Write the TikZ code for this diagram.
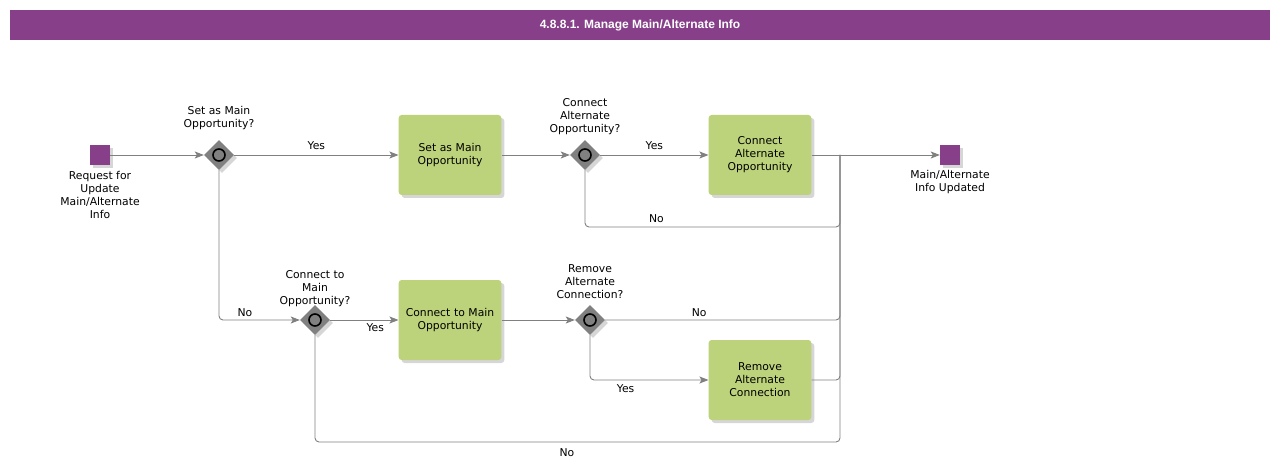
\documentclass[tikz,border=0pt]{standalone}
\usepackage{fontspec}
\setmainfont{DejaVu Sans}
\newfontfamily\headfont{Liberation Sans}
\usetikzlibrary{shapes.geometric,arrows.meta,shadows}
\definecolor{bpmpurple}{HTML}{873F8A}
\definecolor{bpmgreen}{HTML}{BDD37B}
\definecolor{bpmline}{HTML}{808080}

\begin{document}
\begin{tikzpicture}[x=1pt,y=-1pt,
    every node/.style={font=\fontsize{10.8}{13}\selectfont},
    softshadow/.style={drop shadow={shadow xshift=3pt,shadow yshift=-3pt,fill=black,opacity=0.16}},
    event/.style={fill=bpmpurple,minimum size=20pt,inner sep=0pt,softshadow},
    task/.style={fill=bpmgreen,rounded corners=3pt,minimum width=100pt,minimum height=80pt,
        text width=96pt,align=center,softshadow},
    gateway/.style={diamond,fill=bpmline,minimum size=30pt,inner sep=0pt,softshadow},
    gatering/.style={draw=black,line width=1.6pt,fill=bpmline},
    caption/.style={align=center,inner sep=1pt},
    flow/.style={draw=bpmline,line width=0.9pt,rounded corners=4pt,
        -{Stealth[length=9pt,width=7pt,inset=2pt]}},
    mergeline/.style={draw=bpmline,line width=0.9pt,rounded corners=4pt}]
    \useasboundingbox (0,0) rectangle (1280,473);

    % title bar
    \fill[bpmpurple] (10,10) rectangle (1270,40);
    \node[text=white,font=\headfont\bfseries\fontsize{12}{14}\selectfont] (title) at (640,25)
        {4.8.8.1. Manage Main/Alternate Info};

    % events
    \node[event] (start) at (100,155) {};
    \node[caption] (start-text) at (100,195) {Request for\\Update\\Main/Alternate\\Info};
    \node[event] (done) at (950,155) {};
    \node[caption] (done-text) at (950,182) {Main/Alternate\\Info Updated};

    % gateways
    \foreach \gw/\gx/\gy/\ly/\ask in {gwmain/219/155/118/{Set as Main\\Opportunity?},
        gwalt/585/155/117/{Connect\\Alternate\\Opportunity?},
        gwconn/315/320/289/{Connect to\\Main\\Opportunity?},
        gwremove/590/320/282/{Remove\\Alternate\\Connection?}}
    {
        \node[gateway] (\gw) at (\gx,\gy) {};
        \node[caption] (\gw-text) at (\gx,\ly) {\ask};
    }
    \foreach \gw in {gwmain,gwalt,gwconn,gwremove}
        \draw[gatering] (\gw.center) circle (6pt);

    % tasks
    \foreach \tk/\tx/\ty/\what in {setmain/450/155/{Set as Main\\Opportunity},
        connalt/760/155/{Connect\\Alternate\\Opportunity},
        connmain/450/320/{Connect to Main\\Opportunity},
        removealt/760/380/{Remove\\Alternate\\Connection}}
    {
        \node[task] (\tk) at (\tx,\ty) {\what};
    }

    % merge points
    \coordinate (mergetop) at (840,155);
    \coordinate (mergealt) at (840,227);
    \coordinate (mergeno) at (840,320);
    \coordinate (mergeyes) at (840,380);
    \coordinate (mergelow) at (840,442);

    % flows
    \draw[flow] (start) -- (gwmain);
    \draw[flow] (gwmain) -- node[above=2pt] {Yes} (setmain);
    \draw[flow] (setmain) -- (gwalt);
    \draw[flow] (gwalt) -- node[above=2pt] {Yes} (connalt);
    \draw[flow] (connalt) -- (done);
    \draw[mergeline] (gwalt) |- node[pos=0.64,above=1pt] {No} (mergealt) -- (mergetop);
    \draw[flow] (gwmain) |- node[pos=0.66,above] {No} (gwconn);
    \draw[flow] (gwconn) -- node[pos=0.66,below] {Yes} (connmain);
    \draw[flow] (connmain) -- (gwremove);
    \draw[mergeline] (gwremove) -- node[pos=0.4,above] {No} (mergeno) -- (mergetop);
    \draw[flow] (gwremove) |- node[pos=0.65,below=1pt] {Yes} (removealt);
    \draw[mergeline] (removealt) -- (mergeyes) -- (mergetop);
    \draw[mergeline] (gwconn) |- node[pos=0.74,below=3pt] {No} (mergelow) -- (mergetop);
\end{tikzpicture}
\end{document}
